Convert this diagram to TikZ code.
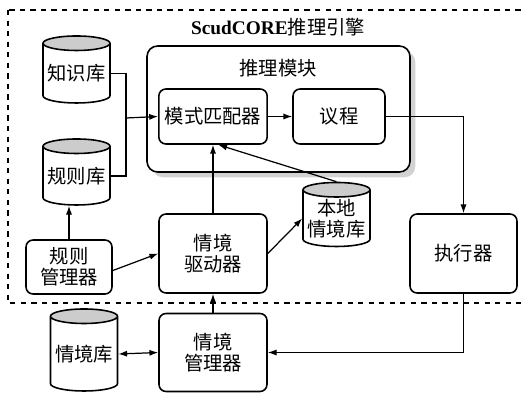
\documentclass[tikz,border=0pt]{standalone}
\usepackage{fontspec}
\setmainfont{Liberation Serif}
\newfontfamily\cjk{Noto Sans CJK SC}
\usetikzlibrary{arrows.meta,shapes.geometric,shadows,positioning}

\begin{document}
\begin{tikzpicture}
[x=0.02cm,y=-0.02cm,
 block/.style={rectangle,rounded corners=4pt,draw=black,line width=0.9pt,fill=white,align=center,
   font=\cjk\fontsize{11}{12}\selectfont},
 store/.style={cylinder,shape border rotate=90,aspect=0.25,draw=black,line width=0.9pt,
   cylinder uses custom fill,cylinder end fill=black!20,cylinder body fill=white,align=center,
   inner sep=0pt,font=\cjk\fontsize{11}{12}\selectfont},
 link/.style={line width=0.7pt,-{Latex[length=5pt,width=3.5pt]}}]
\useasboundingbox (0,0) rectangle (523,392);

% engine frame
\draw[dashed,line width=0.7pt] (8,10) rectangle (530,303);
\node (engine) at (278,27) {\fontsize{11}{12}\selectfont{\bfseries ScudCORE}{\cjk 推理引擎}};

% reasoning module
\node[block,rounded corners=6pt,minimum width=5.26cm,minimum height=2.52cm,
  drop shadow={shadow xshift=3pt,shadow yshift=-3pt,fill=black!35}] (module) at (278.5,109) {};
\node[font=\cjk\fontsize{11}{12}\selectfont] (modtitle) at (278,68) {推理模块};
\node[block,minimum width=1.84cm,minimum height=1.1cm] (matcher) at (213,116.5) {模式匹配器};
\node[block,minimum width=1.84cm,minimum height=1.1cm] (agenda) at (339,116.5) {议程};

% stores
\node[store,minimum width=1.34cm,minimum height=1.34cm] (kb) at (76.5,73.5) {知识库};
\node[store,minimum width=1.34cm,minimum height=1.32cm] (rb) at (76.5,176) {规则库};
\node[store,minimum width=1.34cm,minimum height=1.28cm] (localdb) at (336.5,218.5) {本地\\情境库};
\node[store,minimum width=1.34cm,minimum height=1.64cm] (ctxdb) at (84,354) {情境库};

% managers and drivers
\node[block,minimum width=1.72cm,minimum height=1.08cm] (rulemgr) at (69,267) {规则\\管理器};
\node[block,minimum width=2.16cm,minimum height=1.58cm] (driver) at (213,253.5) {情境\\驱动器};
\node[block,minimum width=2.14cm,minimum height=1.58cm] (executor) at (463.5,253.5) {执行器};
\node[block,minimum width=2.16cm,minimum height=1.56cm] (ctxmgr) at (213,352.5) {情境\\管理器};

% connectors
\coordinate (join) at (126,118);
\draw[line width=0.7pt] (kb.east) -| (join);
\draw[line width=0.7pt] (rb.east) -| (join);
\draw[link] (join) -- (matcher.west);
\draw[link] (matcher) -- (agenda);
\draw[link] (agenda.east) -| (executor.north);
\draw[link] (executor.south) |- (ctxmgr.east);
\draw[link] (ctxmgr) -- (driver);
\draw[link] (driver) -- (matcher);
\draw[link] (localdb.north) -- ([xshift=3pt]matcher.south);
\draw[link] (rulemgr.north) -- (rulemgr.north |- rb.south);
\draw[link] ([yshift=-2pt]rulemgr.east) -- (driver.west);
\draw[link] (driver.east) -- (localdb.west);
\draw[line width=0.7pt,{Latex[length=5pt,width=3.5pt]}-{Latex[length=5pt,width=3.5pt]}] (ctxdb.east) -- (ctxmgr.west);
\end{tikzpicture}
\end{document}
